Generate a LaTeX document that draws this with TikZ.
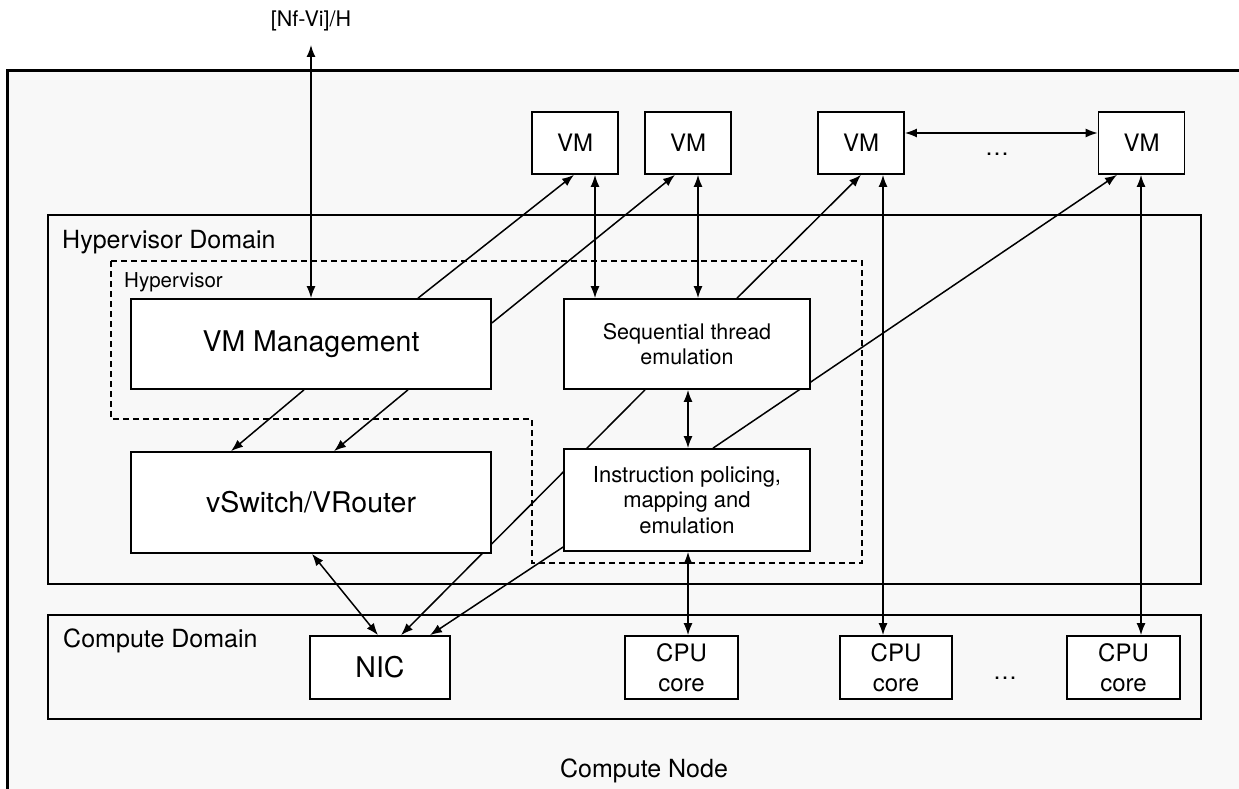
\documentclass[tikz,border=0pt]{standalone}
\usepackage{fontspec}
\setmainfont{TeX Gyre Heros}
\usetikzlibrary{arrows.meta}
\definecolor{bgc}{RGB}{248,248,248}
\pgfdeclarelayer{back}
\pgfdeclarelayer{lines}
\pgfsetlayers{back,lines,main}
\begin{document}
\begin{tikzpicture}[x=1pt,y=-1pt,
  boxw/.style={draw, fill=white, line width=1.7pt, inner sep=0pt, align=center},
  domainbox/.style={draw, fill=bgc, line width=1.6pt, inner sep=0pt},
  arrone/.style={line width=1.5pt, -{Latex[length=12pt,width=9pt]}},
  arrtwo/.style={line width=1.5pt, {Latex[length=12pt,width=9pt]}-{Latex[length=12pt,width=9pt]}},
  bigtxt/.style={font=\fontsize{28.5}{33}\selectfont},
  midtxt/.style={font=\fontsize{24}{30}\selectfont},
  labtxt/.style={font=\fontsize{25}{30}\selectfont, inner sep=0pt},
  smalltxt/.style={font=\fontsize{21.5}{25.5}\selectfont}
]
\useasboundingbox (0,0) rectangle (1239,789);
\begin{pgfonlayer}{back}
  \begin{scope}
    \clip (0,0) rectangle (1239,789);
    \fill[bgc] (7,71) rectangle (1250,800);
    \draw[line width=3pt] (1250,71) -- (7,71) -- (7,800);
  \end{scope}
  \node[domainbox, minimum width=1153pt, minimum height=369pt] (hd) at (624.5,399.5) {};
  \node[domainbox, minimum width=1153pt, minimum height=104pt] (cd) at (624.5,667) {};
  \draw[line width=1.5pt, dash pattern=on 6pt off 4pt]
    (111,261) -- (862,261) -- (862,563) -- (532,563) -- (532,419) -- (111,419) -- cycle;
\end{pgfonlayer}

% labels
\node[labtxt, anchor=base west] (hdl) at (62,248) {Hypervisor Domain};
\node[font=\fontsize{20.5}{24}\selectfont, inner sep=0pt, anchor=base west] (hvl) at (124,287) {Hypervisor};
\node[labtxt, anchor=base west] (cdl) at (63,647) {Compute Domain};
\node[labtxt, anchor=base] (cnl) at (644,777) {Compute Node};
\node[font=\fontsize{21.5}{25}\selectfont, inner sep=0pt, anchor=base] (nfvi) at (311,27) {[Nf-Vi]/H};
\coordinate (nfvitip) at (311,45);
\node[midtxt, anchor=base] (dots1) at (997,156) {\dots};
\node[midtxt, anchor=base] (dots2) at (1005,679) {\dots};

% boxes
\node[boxw, bigtxt, minimum width=360pt, minimum height=90pt] (vmm) at (311,344) {VM Management};
\node[boxw, bigtxt, minimum width=360pt, minimum height=101pt] (vsw) at (311,502.5) {vSwitch/VRouter};
\node[boxw, smalltxt, minimum width=246pt, minimum height=90pt] (seq) at (687,344) {Sequential thread\\emulation};
\node[boxw, font=\fontsize{22}{25.5}\selectfont, minimum width=246pt, minimum height=102pt] (ins) at (687,500) {Instruction policing,\\mapping and\\emulation};
\node[boxw, midtxt, minimum width=86pt, minimum height=62pt] (vm1) at (575,143) {VM};
\node[boxw, midtxt, minimum width=86pt, minimum height=62pt] (vm2) at (688,143) {VM};
\node[boxw, midtxt, minimum width=86pt, minimum height=62pt] (vm3) at (861,143) {VM};
\node[boxw, midtxt, minimum width=86pt, minimum height=62pt] (vm4) at (1141.5,143) {VM};
\node[boxw, bigtxt, minimum width=140pt, minimum height=63pt] (nic) at (380,667.5) {NIC};
\node[boxw, midtxt, minimum width=113pt, minimum height=63pt] (cpu1) at (681.5,667.5) {CPU\\core};
\node[boxw, midtxt, minimum width=112pt, minimum height=63pt] (cpu2) at (896,667.5) {CPU\\core};
\node[boxw, midtxt, minimum width=113pt, minimum height=63pt] (cpu3) at (1123.5,667.5) {CPU\\core};

\begin{pgfonlayer}{lines}
  \draw[arrtwo] (nfvitip) -- (vmm.north);
  \draw[arrone] (vmm.north -| 418,0) -- (vm1.south -| 574,0);
  \draw[arrone] (vmm.east |- 0,323) -- (vm2.south -| 675,0);
  \draw[arrtwo] (vm1.south -| 595,0) -- (seq.north -| 595,0);
  \draw[arrtwo] (vm2.south -| 698,0) -- (seq.north -| 698,0);
  \draw[arrone] (seq.north -| 737,0) -- (vm3.south -| 861,0);
  \draw[arrone] (ins.north -| 713,0) -- (vm4.south -| 1117,0);
  \draw[arrtwo] (vm3.east |- 0,133) -- (vm4.west |- 0,133);
  \draw[arrtwo] (vm3.south -| 883,0) -- (cpu2.north -| 883,0);
  \draw[arrtwo] (vm4.south -| 1141,0) -- (cpu3.north -| 1141,0);
  \draw[arrtwo] (seq.south -| 688,0) -- (ins.north -| 688,0);
  \draw[arrtwo] (ins.south -| 688,0) -- (cpu1.north -| 688,0);
  \draw[arrtwo] (vsw.south -| 312,0) -- (nic.north -| 378,0);
  \draw[arrone] (seq.south -| 645,0) -- (nic.north -| 401,0);
  \draw[arrone] (ins.west |- 0,547) -- (nic.north -| 430,0);
  \draw[arrone] (vmm.south -| 304,0) -- (vsw.north -| 231,0);
  \draw[arrone] (vmm.south -| 408,0) -- (vsw.north -| 334,0);
\end{pgfonlayer}
\end{tikzpicture}
\end{document}
